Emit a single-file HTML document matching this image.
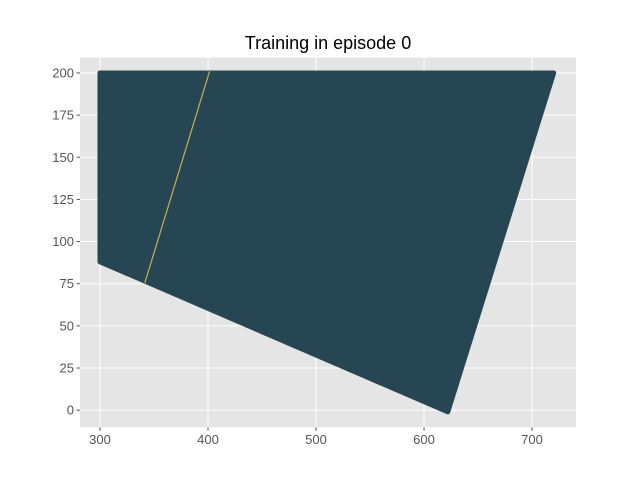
<!DOCTYPE html>
<html><head><meta charset="utf-8"><style>
body{margin:0;background:#fff;}
svg{display:block;font-family:"Liberation Sans","DejaVu Sans",sans-serif;}
</style></head><body>
<svg id="chart" width="640" height="480"></svg>
<script>
const xTicks=[300,400,500,600,700];
const yTicks=[0,25,50,75,100,125,150,175,200];
const regionX=[300,720,622,300];
const regionY=[200,200,-1,88];
const lineX=[341.5,401.5];
const lineY=[75.5,201];
const X0=281.5,X1=740.7,Y0=-10.1,Y1=209.1;
const L=80,R=576,T=57.6,B=427.2;
const sx=v=>L+(v-X0)/(X1-X0)*(R-L);
const sy=v=>B-(v-Y0)/(Y1-Y0)*(B-T);
const ns="http://www.w3.org/2000/svg";
const svg=document.getElementById('chart');
function mk(tag,attrs,parent){const e=document.createElementNS(ns,tag);for(const k in attrs)e.setAttribute(k,attrs[k]);(parent||svg).appendChild(e);return e;}
const bg=mk('rect',{x:L,y:T,width:R-L,height:B-T,fill:'#e5e5e5'});


xTicks.forEach(v=>{
 const g=mk('line',{x1:sx(v),x2:sx(v),y1:T,y2:B,stroke:'#fff','stroke-width':1});
 
 
 mk('line',{x1:sx(v),x2:sx(v),y1:B,y2:B+3.5,stroke:'#555'});
 const t=mk('text',{x:sx(v),y:B+17,'text-anchor':'middle','font-size':13,fill:'#555'});
 t.textContent=v;
 
 
});
yTicks.forEach(v=>{
 const g=mk('line',{x1:L,x2:R,y1:sy(v),y2:sy(v),stroke:'#fff','stroke-width':1});
 
 
 mk('line',{x1:L-3.5,x2:L,y1:sy(v),y2:sy(v),stroke:'#555'});
 const t=mk('text',{x:L-6,y:sy(v)+4.5,'text-anchor':'end','font-size':13,fill:'#555'});
 t.textContent=v;
 
 
});
const pts=regionX.map((x,i)=>sx(x)+','+sy(regionY[i])).join(' ');
const poly=mk('polygon',{points:pts,fill:'#264653',stroke:'#264653','stroke-width':5,'stroke-linejoin':'round'});


const ln=mk('line',{x1:sx(lineX[0]),y1:sy(lineY[0]),x2:sx(lineX[1]),y2:sy(lineY[1]),stroke:'#c9b04a','stroke-width':1.2});


const title=mk('text',{x:(L+R)/2,y:49,'text-anchor':'middle','font-size':18,fill:'#000'});
title.textContent='Training in episode 0';


</script>
</body></html>
